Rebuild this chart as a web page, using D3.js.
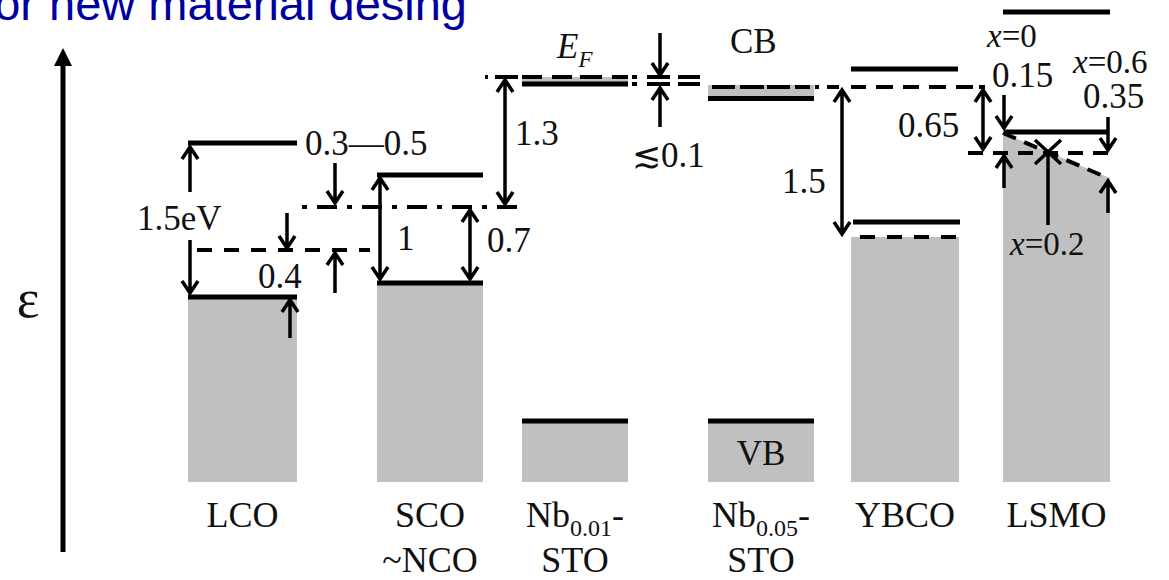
<!DOCTYPE html>
<html>
<head>
<meta charset="utf-8">
<script src="https://cdn.jsdelivr.net/npm/d3@7"></script>
<style>
  html, body { margin: 0; padding: 0; background: #fff; }
  svg { display: block; }
  .serif { font-family: "Liberation Serif", "Times New Roman", serif; fill: #111; }
</style>
</head>
<body>
<svg id="chart" width="1169" height="580"></svg>
<script>
// materials along the x axis, band edges in diagram units
const materials = ["LCO", "SCO", "Nb0.01-STO", "Nb0.05-STO", "YBCO", "LSMO"];
const bandLeft = [18.8, 37.7, 52.2, 70.8, 85.1, 100.3];
const bandRight = [29.7, 48.3, 62.8, 81.4, 95.9, 111.0];
// energies in eV, 0 = E_F of Nb-STO
const filledTop = [-2.2, -2.06, -3.44, -3.44, -1.6, -0.56];
const filledBottom = -4.05;
const lsmoSlantEnd = -1.01;

const labelMain = ["LCO", "SCO", "Nb", "Nb", "YBCO", "LSMO"];
const labelSub = ["", "", "0.01", "0.05", "", ""];
const labelSecond = ["", "~NCO", "STO", "STO", "", ""];

// filled part of the conduction band [x1, x2, Etop, Ebottom]
const cbFill = [
  [52.2, 62.8, 0.0, -0.07],
  [70.8, 81.4, -0.08, -0.21],
];

// band edges drawn as solid lines [x1, x2, E]
const solidLevels = [
  [18.8, 29.7, -0.66], [18.8, 29.7, -2.2],
  [37.7, 48.3, -0.98], [37.7, 48.3, -2.06],
  [52.2, 62.8, -0.07], [52.2, 62.8, -3.44],
  [70.8, 81.4, -0.215], [70.8, 81.4, -3.44],
  [85.1, 95.8, 0.08], [85.3, 96.0, -1.45],
  [100.3, 111.0, 0.65], [100.4, 110.8, -0.55],
];

// Fermi levels drawn dashed [x1, x2, E]
const dashedLevels = [
  [48.5, 70.0, 0.0],
  [63.2, 70.0, -0.07],
  [71.2, 98.5, -0.1],
  [19.7, 37.0, -1.73],
  [30.2, 52.0, -1.3],
  [86.0, 95.8, -1.6],
  [96.8, 110.8, -0.76],
];

// arrows [x, Efrom, Eto]
const singleArrows = [
  [19.0, -1.15, -0.7], [19.0, -1.63, -2.16],
  [28.7, -1.36, -1.71], [33.5, -2.16, -1.76],
  [29.0, -2.61, -2.23], [33.5, -0.86, -1.26],
  [66.0, 0.44, 0.02], [66.0, -0.5, -0.11],
  [100.4, -0.18, -0.51], [110.8, -0.4, -0.73],
  [100.4, -1.11, -0.79], [110.8, -1.36, -1.04],
];
const doubleArrows = [
  [38.0, -1.01, -2.02], [47.0, -1.33, -2.02],
  [50.5, -0.03, -1.27], [84.2, -0.13, -1.57],
  [98.3, -0.13, -0.72],
];

// value labels [text, x, E of baseline]
const valueLabels = [
  ["0.3\u20140.5", 30.5, -0.78], ["1.5eV", 13.7, -1.53],
  ["0.4", 25.8, -2.11], ["1", 39.7, -1.73], ["0.7", 48.7, -1.75],
  ["1.3", 51.5, -0.68], ["\u22720.1", 63.2, -0.9], ["CB", 73.0, 0.24],
  ["1.5", 78.2, -1.16], ["0.65", 89.8, -0.6], ["0.15", 99.2, -0.1],
  ["0.35", 108.3, -0.31],
];
const dopingLabels = [["0", 98.7, 0.3], ["0.6", 107.3, 0.04], ["0.2", 101.0, -1.78]];
const crossPoint = [104.8, -0.75, -1.48];

const width = 1169;
const height = 580;

const x = d3.scaleLinear().domain([0, 116.9]).range([0, width]);
const y = d3.scaleLinear().domain([0.77, -5.03]).range([0, height]);

const svg = d3.select("#chart");

// title (cut by the top edge)
svg.append("text")
  .attr("x", 467)
  .attr("y", 20)
  .attr("text-anchor", "end")
  .attr("font-family", "Liberation Sans, Arial, sans-serif")
  .attr("font-size", 47)
  .attr("fill", "#0000a0")
  .text("for new material desing");

// energy axis
svg.append("line")
  .attr("x1", 63).attr("x2", 63)
  .attr("y1", 62).attr("y2", 552)
  .attr("stroke", "#000")
  .attr("stroke-width", 5);
svg.append("path")
  .attr("d", "M63,48 L72,66 L54,66 Z")
  .attr("fill", "#000");
svg.append("text")
  .attr("x", 28)
  .attr("y", 317)
  .attr("text-anchor", "middle")
  .attr("font-family", "Liberation Serif, Times New Roman, serif")
  .attr("font-size", 54)
  .attr("fill", "#111")
  .text("\u03b5");

const grey = "#c0c0c0";

svg.selectAll(".band")
  .data(materials.slice(0, 5))
  .enter()
  .append("rect")
  .attr("class", "band")
  .attr("x", (d, i) => x(bandLeft[i]))
  .attr("y", (d, i) => y(filledTop[i]))
  .attr("width", (d, i) => x(bandRight[i]) - x(bandLeft[i]))
  .attr("height", (d, i) => y(filledBottom) - y(filledTop[i]))
  .attr("fill", grey);

const poly = d3.line().x((d) => x(d[0])).y((d) => y(d[1]));
svg.append("path")
  .attr("d", poly([
    [bandLeft[5], filledTop[5]],
    [bandRight[5], lsmoSlantEnd],
    [bandRight[5], filledBottom],
    [bandLeft[5], filledBottom],
  ]) + "Z")
  .attr("fill", grey);

svg.selectAll(".cbfill")
  .data(cbFill)
  .enter()
  .append("rect")
  .attr("x", (d) => x(d[0]))
  .attr("y", (d) => y(d[2]))
  .attr("width", (d) => x(d[1]) - x(d[0]))
  .attr("height", (d) => y(d[3]) - y(d[2]))
  .attr("fill", grey);

// dashed lines
const dashStyle = [
  "3,7,23,4,20,10,20,8,22,10,16,4,5,10,23,8,22,10",
  "5,10,23,8,22,10",
  "23,5,24,3,23,5,15,5,4,8,12,12,15,10,17,10,16,10,17,10,17,6,12,10",
  "15,12",
  "5,10,20,10",
  "15,12",
  "15,10",
];
svg.selectAll(".dash")
  .data(dashedLevels)
  .enter()
  .append("line")
  .attr("x1", (d) => x(d[0]))
  .attr("x2", (d) => x(d[1]))
  .attr("y1", (d) => y(d[2]))
  .attr("y2", (d) => y(d[2]))
  .attr("stroke", "#000")
  .attr("stroke-width", 4)
  .attr("stroke-dasharray", (d, i) => dashStyle[i]);

svg.append("line")
  .attr("x1", x(bandLeft[5]))
  .attr("y1", y(filledTop[5]))
  .attr("x2", x(bandRight[5] - 0.2))
  .attr("y2", y(lsmoSlantEnd))
  .attr("stroke", "#000")
  .attr("stroke-width", 4)
  .attr("stroke-dasharray", "14,9");

// solid band edges
svg.selectAll(".level")
  .data(solidLevels)
  .enter()
  .append("line")
  .attr("x1", (d) => x(d[0]))
  .attr("x2", (d) => x(d[1]))
  .attr("y1", (d) => y(d[2]))
  .attr("y2", (d) => y(d[2]))
  .attr("stroke", "#000")
  .attr("stroke-width", 5);

// arrows
const hw = 8;
const hl = 12;
function head(px, py, dir) {
  return `M${px - hw},${py - dir * hl}L${px},${py}L${px + hw},${py - dir * hl}`;
}
function arrowPath(d, both) {
  const px = x(d[0]);
  const y1 = y(d[1]);
  const y2 = y(d[2]);
  const dir = y2 > y1 ? 1 : -1;
  let p = `M${px},${y1}L${px},${y2}` + head(px, y2, dir);
  if (both) p += head(px, y1, -dir);
  return p;
}
svg.selectAll(".arrow1")
  .data(singleArrows)
  .enter()
  .append("path")
  .attr("d", (d) => arrowPath(d, false))
  .attr("fill", "none")
  .attr("stroke", "#000")
  .attr("stroke-width", 3.5);
svg.selectAll(".arrow2")
  .data(doubleArrows)
  .enter()
  .append("path")
  .attr("d", (d) => arrowPath(d, true))
  .attr("fill", "none")
  .attr("stroke", "#000")
  .attr("stroke-width", 3.5);

// crossing mark for x=0.2
const cx = x(crossPoint[0]);
const cy = y(crossPoint[1]);
svg.append("path")
  .attr("d", `M${cx - 13},${cy - 12}L${cx + 13},${cy + 12}M${cx - 13},${cy + 12}L${cx + 13},${cy - 12}M${cx},${cy}L${cx},${y(crossPoint[2])}`)
  .attr("fill", "none")
  .attr("stroke", "#000")
  .attr("stroke-width", 3.5);

// labels
svg.selectAll(".val")
  .data(valueLabels)
  .enter()
  .append("text")
  .attr("class", "serif")
  .attr("x", (d) => x(d[1]))
  .attr("y", (d) => y(d[2]))
  .attr("font-size", 35)
  .text((d) => d[0]);

const ef = svg.append("text")
  .attr("class", "serif")
  .attr("x", x(55.7))
  .attr("y", y(0.19))
  .attr("font-size", 35)
  .attr("font-style", "italic");
ef.append("tspan").text("E");
ef.append("tspan").attr("font-size", 23).attr("dy", 9).text("F");

const dl = svg.selectAll(".dop")
  .data(dopingLabels)
  .enter()
  .append("text")
  .attr("class", "serif")
  .attr("x", (d) => x(d[1]))
  .attr("y", (d) => y(d[2]))
  .attr("font-size", 33);
dl.append("tspan").attr("font-style", "italic").text("x");
dl.append("tspan").text((d) => "=" + d[0]);

svg.append("text")
  .attr("class", "serif")
  .attr("x", x((bandLeft[3] + bandRight[3]) / 2))
  .attr("y", y(-3.88))
  .attr("text-anchor", "middle")
  .attr("font-size", 35)
  .text("VB");

// material names
const centers = materials.map((d, i) => x((bandLeft[i] + bandRight[i]) / 2));
const names = svg.selectAll(".name")
  .data(materials)
  .enter()
  .append("text")
  .attr("class", "serif")
  .attr("x", (d, i) => centers[i])
  .attr("y", 527)
  .attr("text-anchor", "middle")
  .attr("font-size", 36);
names.append("tspan").text((d, i) => labelMain[i]);
names.filter((d, i) => labelSub[i] !== "")
  .append("tspan").attr("font-size", 24).attr("dy", 9).text((d) => labelSub[materials.indexOf(d)]);
names.filter((d, i) => labelSub[i] !== "")
  .append("tspan").attr("dy", -9).text("-");

svg.selectAll(".name2")
  .data(materials.filter((d, i) => labelSecond[i] !== ""))
  .enter()
  .append("text")
  .attr("class", "serif")
  .attr("x", (d) => centers[materials.indexOf(d)])
  .attr("y", 572)
  .attr("text-anchor", "middle")
  .attr("font-size", 36)
  .text((d) => labelSecond[materials.indexOf(d)]);
</script>
</body>
</html>
